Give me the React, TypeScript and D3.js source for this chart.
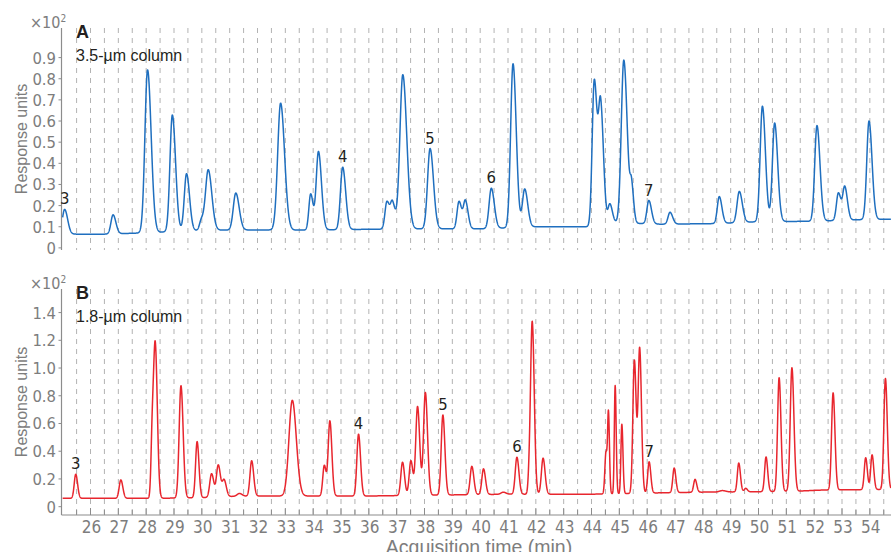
import React from "react";
import * as d3 from "d3";

// ---------- Data ----------
// Panel A: 3.5-µm column. Baseline knots (min, ×10² response units)
const baseTimesA = [25.0, 26.5, 27.7, 28.5, 29.1, 30.6, 32.2, 33.5, 36.0, 38.0, 40.0, 42.0, 44.0, 44.8, 46.5, 48.5, 50.0, 52.0, 54.0, 54.8];
const baseValuesA = [0.065, 0.065, 0.07, 0.074, 0.08, 0.084, 0.085, 0.084, 0.088, 0.09, 0.09, 0.1, 0.1, 0.12, 0.112, 0.115, 0.124, 0.126, 0.135, 0.135];
// Peak table A: retention time (min), height above baseline, width (sigma, min)
const peakTimesA = [25.07, 26.81, 28.05, 28.94, 29.45, 29.99, 30.23, 31.22, 32.83, 33.91, 34.19, 35.06, 36.65, 36.85, 37.22, 38.2, 39.24, 39.47, 40.4, 41.18, 41.6, 44.1, 44.33, 44.66, 45.16, 45.44, 46.06, 46.82, 48.59, 49.31, 50.14, 50.58, 52.1, 52.87, 53.1, 53.97];
const peakHeightsA = [0.117, 0.09, 0.77, 0.55, 0.27, 0.05, 0.285, 0.175, 0.6, 0.17, 0.37, 0.295, 0.13, 0.12, 0.73, 0.38, 0.13, 0.13, 0.19, 0.775, 0.18, 0.69, 0.55, 0.09, 0.77, 0.16, 0.11, 0.056, 0.127, 0.147, 0.546, 0.466, 0.452, 0.13, 0.155, 0.465];
const peakWidthsA = [0.08, 0.075, 0.095, 0.085, 0.08, 0.07, 0.095, 0.09, 0.105, 0.065, 0.08, 0.08, 0.07, 0.07, 0.105, 0.09, 0.07, 0.07, 0.08, 0.085, 0.08, 0.075, 0.075, 0.065, 0.09, 0.055, 0.07, 0.07, 0.07, 0.08, 0.08, 0.08, 0.08, 0.07, 0.07, 0.08];
const labelTextsA = ["3", "4", "5", "6", "7"];
const labelTimesA = [25.07, 35.06, 38.2, 40.4, 46.06];

// Panel B: 1.8-µm column
const baseTimesB = [25.0, 28.0, 29.0, 30.0, 31.2, 32.0, 36.0, 37.0, 39.0, 41.0, 44.0, 46.5, 48.0, 50.0, 51.5, 52.3, 54.8];
const baseValuesB = [0.06, 0.06, 0.062, 0.065, 0.075, 0.077, 0.077, 0.08, 0.085, 0.09, 0.09, 0.1, 0.105, 0.108, 0.113, 0.12, 0.125];
const peakTimesB = [25.47, 27.09, 28.22, 28.33, 29.25, 29.83, 30.35, 30.59, 30.8, 31.35, 31.79, 33.25, 34.4, 34.6, 35.63, 37.21, 37.51, 37.75, 38.03, 38.66, 39.7, 40.12, 40.83, 41.32, 41.76, 41.87, 42.26, 44.52, 44.61, 44.85, 45.09, 45.54, 45.73, 46.07, 46.97, 47.72, 48.7, 49.29, 49.54, 50.27, 50.74, 51.2, 52.68, 53.85, 54.08, 54.56];
const peakHeightsB = [0.174, 0.133, 0.45, 1.07, 0.81, 0.405, 0.17, 0.23, 0.12, 0.02, 0.255, 0.69, 0.22, 0.54, 0.446, 0.24, 0.25, 0.64, 0.74, 0.577, 0.204, 0.185, 0.015, 0.267, 0.1, 1.24, 0.26, 0.3, 0.55, 0.78, 0.5, 0.96, 1.04, 0.225, 0.177, 0.093, 0.01, 0.208, 0.025, 0.25, 0.82, 0.89, 0.7, 0.23, 0.25, 0.8];
const peakWidthsB = [0.055, 0.06, 0.045, 0.06, 0.065, 0.055, 0.065, 0.065, 0.065, 0.08, 0.06, 0.12, 0.055, 0.06, 0.06, 0.06, 0.06, 0.065, 0.065, 0.06, 0.06, 0.06, 0.08, 0.06, 0.04, 0.06, 0.06, 0.04, 0.03, 0.03, 0.033, 0.054, 0.054, 0.05, 0.05, 0.05, 0.1, 0.05, 0.05, 0.05, 0.055, 0.06, 0.055, 0.05, 0.05, 0.055];
const labelTextsB = ["3", "4", "5", "6", "7"];
const labelTimesB = [25.47, 35.63, 38.66, 41.32, 46.07];

// Axis ticks
const xTicks = [26, 27, 28, 29, 30, 31, 32, 33, 34, 35, 36, 37, 38, 39, 40, 41, 42, 43, 44, 45, 46, 47, 48, 49, 50, 51, 52, 53, 54];
const yTicksA = [0, 0.1, 0.2, 0.3, 0.4, 0.5, 0.6, 0.7, 0.8, 0.9];
const yTicksB = [0, 0.2, 0.4, 0.6, 0.8, 1.0, 1.2, 1.4];

// ---------- Helpers ----------
// peaks drawn with a mild tail (right side slightly wider than left)
function makeSignal(bt: number[], bv: number[], pt: number[], ph: number[], pw: number[], tail: number) {
  const base = d3.scaleLinear().domain(bt).range(bv).clamp(true);
  return (t: number) =>
    base(t) +
    d3.sum(pt, (c, i) => {
      const s = t > c ? pw[i] * tail : pw[i];
      return ph[i] * Math.exp(-((t - c) * (t - c)) / (2 * s * s));
    });
}

const FONT = "'Liberation Sans', Arial, sans-serif";
const NARROW = "'Liberation Sans Narrow', 'Arial Narrow', 'DejaVu Sans Condensed', sans-serif";
const GRAY = "#7d7d7d";
const DARK = "#231f20";

type PanelProps = {
  x: d3.ScaleLinear<number, number>;
  y: d3.ScaleLinear<number, number>;
  signal: (t: number) => number;
  yTicks: number[];
  color: string;
  letter: string;
  subtitle: string;
  labelTexts: string[];
  labelTimes: number[];
};

function Panel({ x, y, signal, yTicks, color, letter, subtitle, labelTexts, labelTimes }: PanelProps) {
  const [y0, y1] = y.range() as [number, number]; // bottom, top
  const [t0, t1] = x.domain();
  const grid = d3.range(25.5, 54.6, 0.5);
  const samples = d3.range(t0, t1, 0.005);
  const line = d3
    .line<number>()
    .x((t) => x(t))
    .y((t) => y(signal(t)))
    .curve(d3.curveLinear);
  const axisX = 61.5;
  const midY = (y0 + y1) / 2;
  return (
    <g>
      {grid.map((g) => (
        <line key={g} x1={x(g)} x2={x(g)} y1={y1} y2={y0} stroke="#b3b3b3" strokeWidth={1} strokeDasharray="5,5" />
      ))}
      <line x1={axisX} x2={axisX} y1={y1} y2={y0} stroke="#8c8c8c" strokeWidth={1.2} />
      {yTicks.map((v) => (
        <g key={v}>
          <line x1={axisX - 3} x2={axisX} y1={y(v)} y2={y(v)} stroke="#8c8c8c" />
          <text x={56} y={y(v)} dy="0.36em" textAnchor="end" fontFamily={NARROW} fontSize={16.5} fill={GRAY}>
            {v === 0 ? "0" : v.toFixed(1)}
          </text>
        </g>
      ))}
      <text x={30} y={y1} fontFamily={NARROW} fontSize={16} fill={GRAY}>
        ×10
        <tspan fontSize={10} dy={-6}>2</tspan>
      </text>
      <text x={76} y={y1 + 10} fontSize={18} fontWeight="bold" fill={DARK}>
        {letter}
      </text>
      <text x={76} y={y1 + 33} fontSize={16} fill={DARK}>
        {subtitle}
      </text>
      <text transform={`translate(26.5,${midY}) rotate(-90)`} textAnchor="middle" fontSize={16} fill={GRAY}>
        Response units
      </text>
      <path d={line(samples) || ""} fill="none" stroke={color} strokeWidth={1.5} strokeLinejoin="round" />
      {labelTexts.map((s, i) => (
        <text key={s} x={x(labelTimes[i])} y={y(signal(labelTimes[i])) - 5} textAnchor="middle" fontFamily={NARROW} fontSize={16.5} fill={DARK}>
          {s}
        </text>
      ))}
    </g>
  );
}

export default function App() {
  const x = d3.scaleLinear().domain([25, 54.76]).range([62.67, 891]);
  const yA = d3.scaleLinear().domain([-0.01, 1.04]).range([250, 28]);
  const yB = d3.scaleLinear().domain([-0.06, 1.57]).range([515, 289]);
  const sigA = makeSignal(baseTimesA, baseValuesA, peakTimesA, peakHeightsA, peakWidthsA, 1.35);
  const sigB = makeSignal(baseTimesB, baseValuesB, peakTimesB, peakHeightsB, peakWidthsB, 1.2);
  const minor = d3.range(25.5, 54.6, 1);
  return (
    <svg
      width={891}
      height={552}
      viewBox="0 0 891 552"
      fontFamily={FONT}
      style={{ position: "absolute", left: 0, top: 0, display: "block", background: "#fff" }}
    >
      <rect width={891} height={552} fill="#fff" />
      <Panel x={x} y={yA} signal={sigA} yTicks={yTicksA} color="#1f6fbf" letter="A" subtitle="3.5-µm column" labelTexts={labelTextsA} labelTimes={labelTimesA} />
      <Panel x={x} y={yB} signal={sigB} yTicks={yTicksB} color="#e8262e" letter="B" subtitle="1.8-µm column" labelTexts={labelTextsB} labelTimes={labelTimesB} />
      {/* x axis */}
      <line x1={61.5} x2={891} y1={515} y2={515} stroke="#8c8c8c" strokeWidth={1.2} />
      {minor.map((t) => (
        <line key={"m" + t} x1={x(t)} x2={x(t)} y1={515} y2={510} stroke="#8c8c8c" />
      ))}
      {xTicks.map((t) => (
        <g key={t}>
          <line x1={x(t)} x2={x(t)} y1={515} y2={508} stroke="#8c8c8c" />
          <text x={x(t) + 1} y={533} textAnchor="middle" fontFamily={NARROW} fontSize={17} fill={GRAY}>
            {t}
          </text>
        </g>
      ))}
      <text x={479} y={554} textAnchor="middle" fontSize={19.5} fill={GRAY}>
        Acquisition time (min)
      </text>
    </svg>
  );
}
